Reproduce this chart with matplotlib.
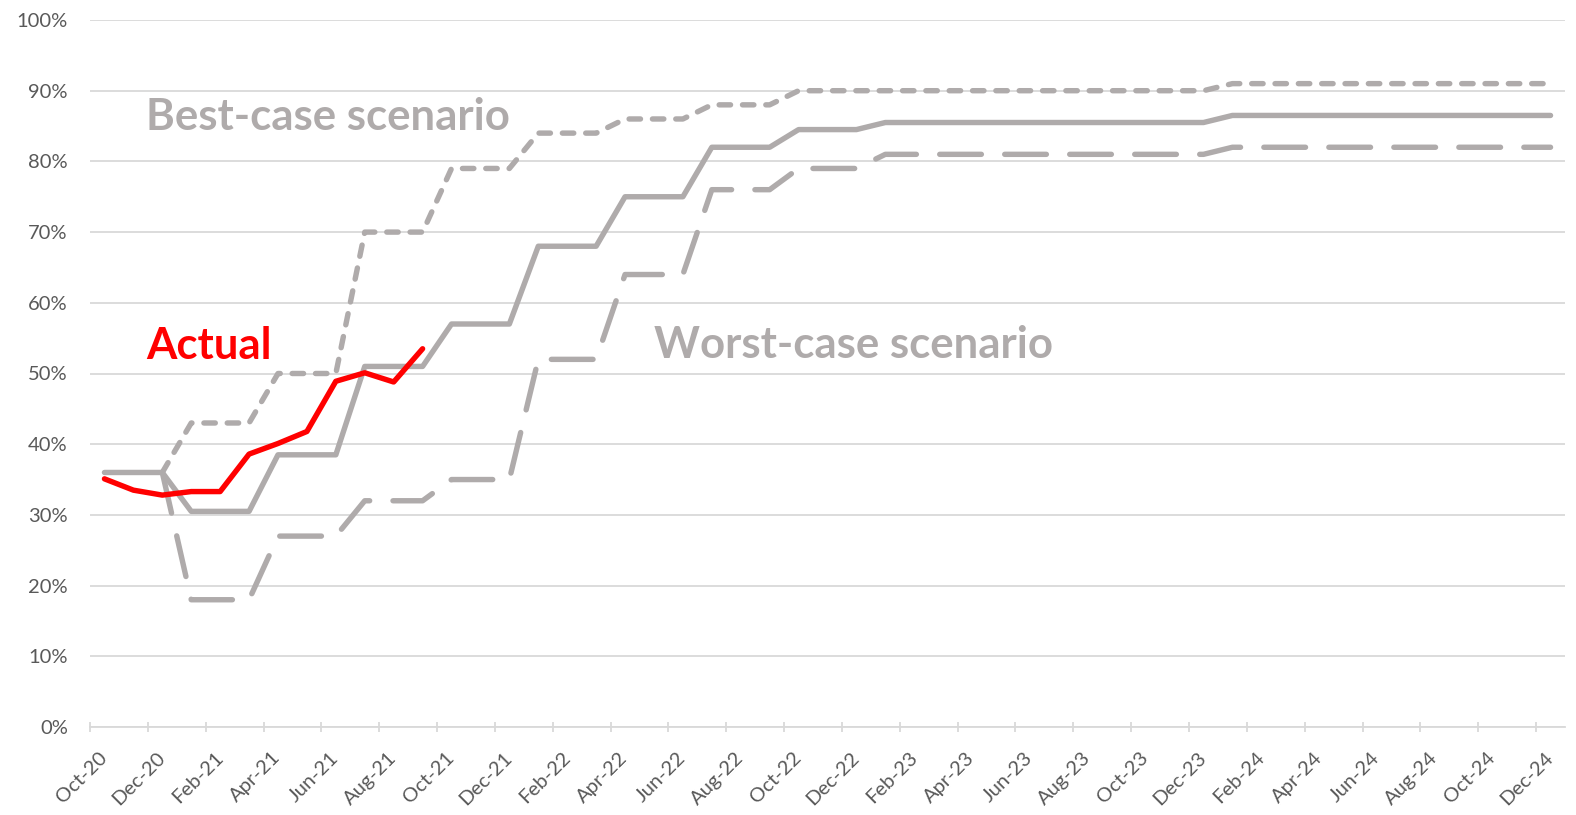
import numpy as np
import pandas as pd
import matplotlib
matplotlib.use('Agg')
import matplotlib.pyplot as plt
from matplotlib.ticker import FixedLocator, PercentFormatter

plt.rcParams['font.family'] = ['Lato', 'DejaVu Sans']
plt.rcParams['lines.scale_dashes'] = False

# categories: Oct-20 .. Dec-24, one per month
months = pd.date_range('2020-10-01', '2024-12-01', freq='MS').strftime('%b-%y').tolist()

# values in %
actual = [35.1, 33.5, 32.8, 33.3, 33.3, 38.6, 40.1, 41.8, 48.9, 50.1, 48.8, 53.5]

central = [36, 36, 36, 30.5, 30.5, 30.5, 38.5, 38.5, 38.5, 51, 51, 51,
           57, 57, 57, 68, 68, 68, 75, 75, 75, 82, 82, 82,
           84.5, 84.5, 84.5,
           85.5, 85.5, 85.5, 85.5, 85.5, 85.5, 85.5, 85.5, 85.5, 85.5, 85.5, 85.5,
           86.5, 86.5, 86.5, 86.5, 86.5, 86.5, 86.5, 86.5, 86.5, 86.5, 86.5, 86.5]

# best / worst cases start at Dec-20
best = [36, 43, 43, 43, 50, 50, 50, 70, 70, 70, 79, 79, 79,
        84, 84, 84, 86, 86, 86, 88, 88, 88,
        90, 90, 90, 90, 90, 90, 90, 90, 90, 90, 90, 90, 90, 90, 90,
        91, 91, 91, 91, 91, 91, 91, 91, 91, 91, 91, 91]

worst = [36, 18, 18, 18, 27, 27, 27, 32, 32, 32, 35, 35, 35,
         52, 52, 52, 64, 64, 64, 76, 76, 76, 79, 79, 79,
         81, 81, 81, 81, 81, 81, 81, 81, 81, 81, 81, 81,
         82, 82, 82, 82, 82, 82, 82, 82, 82, 82, 82, 82]

GRAY = '#AFABAB'
RED = '#FF0000'
TXT = '#595959'
GRID = '#D9D9D9'

n = len(months)
xc = np.arange(n) + 0.5          # category centres
best_start = months.index('Dec-20')

fig = plt.figure(figsize=(15.76, 8.15), dpi=100)
ax = fig.add_axes([90/1576, 1 - 727/815, (1565 - 90)/1576, (727 - 20)/815])

lw = 3.9
ax.plot(xc[best_start:], best, color=GRAY, lw=lw, ls=(0, (8.2, 8.6)),
        dash_capstyle='round', solid_joinstyle='round', zorder=3)
ax.plot(xc[best_start:], worst, color=GRAY, lw=lw, ls=(0, (30, 16.8)),
        dash_capstyle='round', solid_joinstyle='round', zorder=3)
ax.plot(xc, central, color=GRAY, lw=lw, solid_capstyle='round',
        solid_joinstyle='round', zorder=4)
ax.plot(xc[:len(actual)], actual, color=RED, lw=lw, solid_capstyle='round',
        solid_joinstyle='round', zorder=5)

ax.set_xlim(0, n)
ax.set_ylim(0, 100)

# y axis
ax.set_yticks(np.arange(0, 101, 10))
ax.yaxis.set_major_formatter(PercentFormatter(decimals=0))
ax.grid(axis='y', color=GRID, lw=1.3, zorder=0)
ax.tick_params(axis='y', length=0, pad=16, labelsize=14.5, labelcolor=TXT)

# x axis: tick marks on category boundaries, labels on centres
ax.xaxis.set_major_locator(FixedLocator(np.arange(0, n, 2)))
ax.xaxis.set_minor_locator(FixedLocator(xc[::2]))
ax.set_xticklabels([], minor=False)
ax.set_xticklabels(months[::2], minor=True)
ax.tick_params(axis='x', which='major', direction='inout', length=7,
               width=1.3, color=GRID)
ax.tick_params(axis='x', which='minor', length=0, pad=20, labelsize=14.5,
               labelcolor=TXT)
for lab in ax.get_xticklabels(minor=True):
    lab.set_rotation(45)
    lab.set_ha('right')
    lab.set_va('center')
    lab.set_rotation_mode('anchor')

for s in ['top', 'right', 'left']:
    ax.spines[s].set_visible(False)
ax.spines['bottom'].set_color(GRID)
ax.spines['bottom'].set_linewidth(1.3)
ax.set_axisbelow(True)

# annotations
ax.text(1.95, 84.4, 'Best-case scenario', color=GRAY, fontsize=31.5,
        fontweight='bold', va='baseline', ha='left')
ax.text(19.5, 52.2, 'Worst-case scenario', color=GRAY, fontsize=31.5,
        fontweight='bold', va='baseline', ha='left')
ax.text(1.95, 52.0, 'Actual', color=RED, fontsize=31.5,
        fontweight='bold', va='baseline', ha='left')

fig.savefig('out.png', dpi=100)
